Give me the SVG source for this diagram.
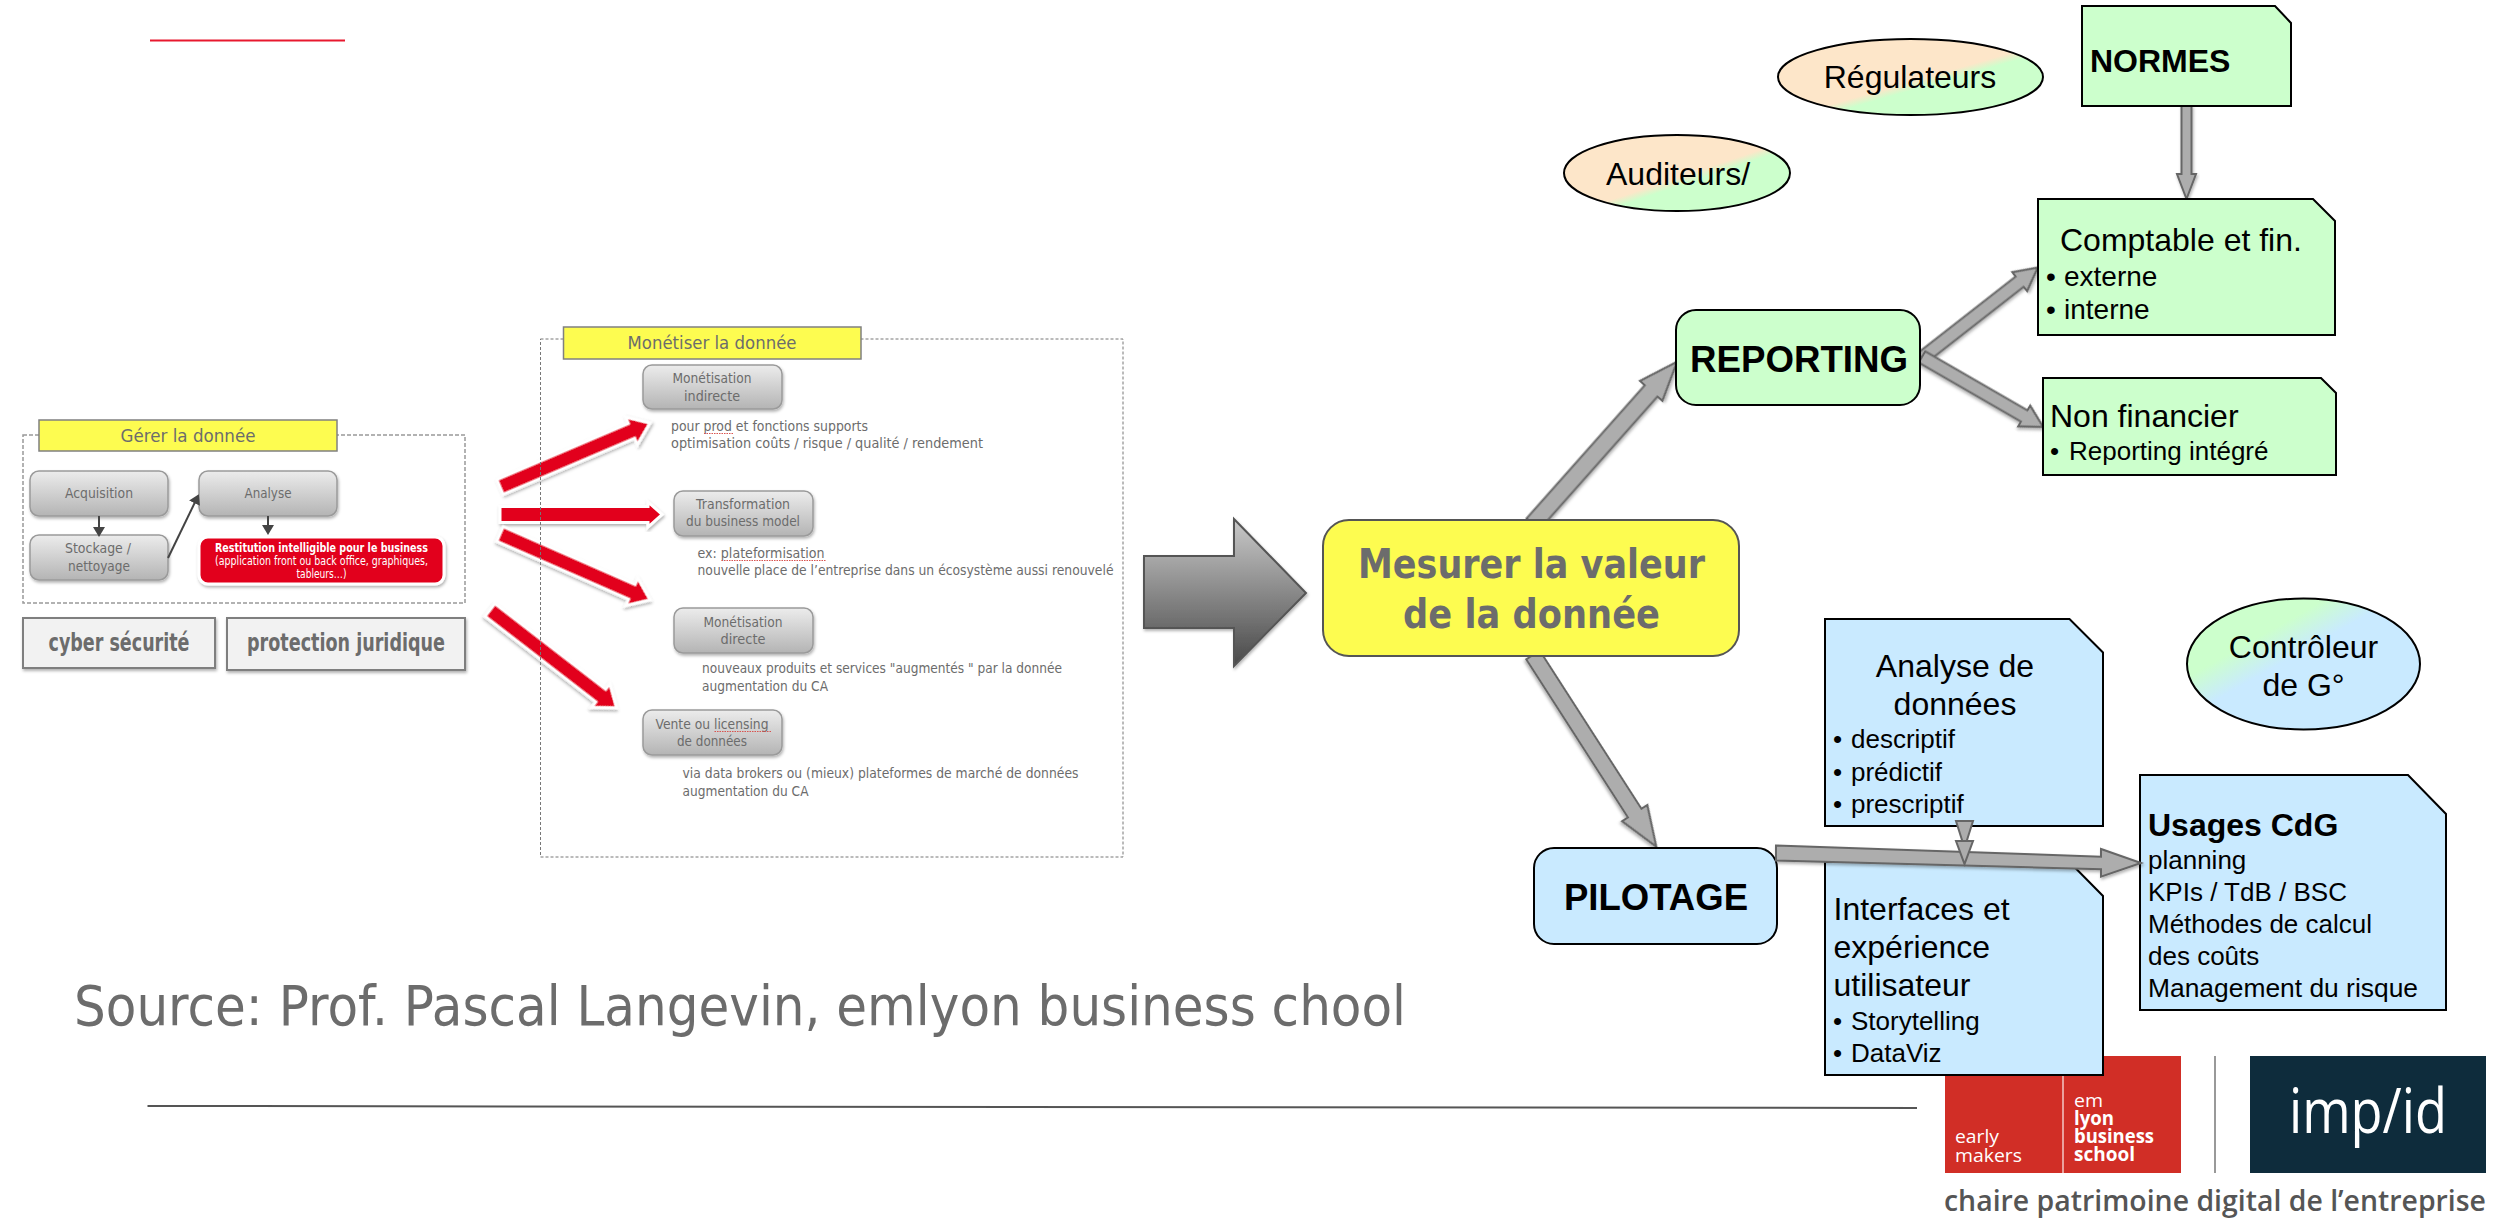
<svg xmlns="http://www.w3.org/2000/svg" width="2503" height="1219" viewBox="0 0 2503 1219">
<style>
text{font-family:"Liberation Sans",Arial,sans-serif;fill:#000}
.t{font-family:"DejaVu Sans","Noto Sans",sans-serif;fill:#6c6c6c;font-size:14.5px}
.c{text-anchor:middle}
.b{font-weight:bold}
.s32{font-size:32px}.s26{font-size:26px}.s28{font-size:28px}.s36{font-size:36px}
.dash{fill:none;stroke:#999;stroke-width:1.5;stroke-dasharray:4 2}
.head{fill:#fdfc50;stroke:#808080;stroke-width:1.5}
.grey{fill:url(#gbox);stroke:#9a9a9a;stroke-width:1.5;filter:url(#sh)}
.flat{fill:#f2f2f2;stroke:#7f7f7f;stroke-width:2;filter:url(#sh)}
.ra{fill:#e2001a;stroke:#fff;stroke-width:3;filter:url(#sh)}
.ga{fill:#adadad;stroke:#666;stroke-width:2;filter:url(#sh)}
.g{fill:#ccffcc;stroke:#000;stroke-width:2}
.bl{fill:#c9eaff;stroke:#000;stroke-width:2}
.thin{fill:none;stroke:#444;stroke-width:2}
.sq{fill:none;stroke:#d9534f;stroke-width:1;stroke-dasharray:1.5 1}
.lg{font-family:"Open Sans","Noto Sans",sans-serif;fill:#fff}
</style>
<defs>
<linearGradient id="gbox" x1="0" y1="0" x2="0" y2="1"><stop offset="0" stop-color="#ececec"/><stop offset="1" stop-color="#b4b4b4"/></linearGradient>
<linearGradient id="big" x1="0" y1="0" x2="0" y2="1"><stop offset="0" stop-color="#c9c9c9"/><stop offset="1" stop-color="#494949"/></linearGradient>
<linearGradient id="og" x1="0" y1="0" x2="1" y2="1"><stop offset="0.53" stop-color="#fde6c9"/><stop offset="0.59" stop-color="#ccffcc"/></linearGradient>
<linearGradient id="gb" x1="0" y1="0" x2="1" y2="1"><stop offset="0.3" stop-color="#ccffcc"/><stop offset="0.45" stop-color="#c9eaff"/></linearGradient>
<filter id="sh" x="-20%" y="-20%" width="140%" height="140%"><feDropShadow dx="1" dy="2" stdDeviation="1.5" flood-color="#000" flood-opacity="0.3"/></filter>
<marker id="sm" markerWidth="5" markerHeight="6" refX="4" refY="3" orient="auto"><path d="M0,0L5,3L0,6Z" fill="#444"/></marker>
</defs>
<rect width="2503" height="1219" fill="#fff"/>
<path d="M150,40.500H345" stroke="#e8182e" stroke-width="2" fill="none"/>

<g id="gerer">
<rect class="dash" x="23" y="435" width="442" height="168"/>
<rect class="head" x="39" y="420" width="298" height="31"/>
<text class="t c" x="188" y="442" style="font-size:18px" textLength="135" lengthAdjust="spacingAndGlyphs">Gérer la donnée</text>
</g>
<g id="acquisition"><rect class="grey" x="30" y="471" width="138" height="45" rx="9"/><text class="t c" x="99" y="498" textLength="68" lengthAdjust="spacingAndGlyphs">Acquisition</text></g>
<g id="stockage"><rect class="grey" x="30" y="535" width="138" height="45" rx="9"/><text class="t c" x="98" y="553" textLength="66" lengthAdjust="spacingAndGlyphs">Stockage /</text><text class="t c" x="99" y="571" textLength="62" lengthAdjust="spacingAndGlyphs">nettoyage</text></g>
<g id="analyse"><rect class="grey" x="199" y="471" width="138" height="45" rx="9"/><text class="t c" x="268" y="498" textLength="47" lengthAdjust="spacingAndGlyphs">Analyse</text></g>
<g id="restitution"><rect x="199" y="537" width="245" height="47" rx="9" fill="#e2001a" stroke="#fff" stroke-width="3" filter="url(#sh)"/>
<text class="t c b" x="321.500" y="552" style="font-size:12px;fill:#fff" textLength="213" lengthAdjust="spacingAndGlyphs">Restitution intelligible pour le business</text>
<text class="t c" x="321.500" y="565" style="font-size:12px;fill:#fff" textLength="213" lengthAdjust="spacingAndGlyphs">(application front ou back office, graphiques,</text>
<text class="t c" x="321.500" y="578" style="font-size:12px;fill:#fff" textLength="50" lengthAdjust="spacingAndGlyphs">tableurs…)</text></g>
<g id="cyber"><rect class="flat" x="23" y="618" width="192" height="50"/><text class="t c b" x="119" y="651" style="font-size:24px" textLength="141" lengthAdjust="spacingAndGlyphs">cyber sécurité</text></g>
<g id="juridique"><rect class="flat" x="227" y="618" width="238" height="52"/><text class="t c b" x="346" y="651" style="font-size:24px" textLength="198" lengthAdjust="spacingAndGlyphs">protection juridique</text></g>

<g id="connectors">
<path class="thin" marker-end="url(#sm)" d="M99,516V535"/>
<path class="thin" marker-end="url(#sm)" d="M268,516V533"/>
<path class="thin" marker-end="url(#sm)" d="M168,558L198,496"/>
<path class="ra" transform="translate(500,487) rotate(-23.100)" d="M0,-8H143V-15L163,0L143,15V8H0Z"/>
<path class="ra" d="M500,506.500H648V502L662,514.500L648,527V522.500H500Z"/>
<path class="ra" transform="translate(500,534) rotate(23.700)" d="M0,-8H144V-15L164,0L144,15V8H0Z"/>
<path class="ra" transform="translate(490,610) rotate(37.700)" d="M0,-8H140V-15L160,0L140,15V8H0Z"/>
<path fill="url(#big)" stroke="#555" stroke-width="2" filter="url(#sh)" d="M1144,556H1234V519L1306,593L1234,666V628H1144Z"/>
<path class="ga" transform="translate(1533,524) rotate(-48.400)" d="M0,-8.500H178V-15L217,0L178,15V8.500H0Z"/>
<path class="ga" transform="translate(1533,655) rotate(57.250)" d="M0,-8H188V-15L228,0L188,15V8H0Z"/>
<path class="ga" transform="translate(1922,358) rotate(-38)" d="M0,-6.500H124V-12L147,0L124,12V6.500H0Z"/>
<path class="ga" transform="translate(1922,357) rotate(30)" d="M0,-6.500H118V-12L140,0L118,12V6.500H0Z"/>
<path class="ga" d="M2181.500,106H2191.500V174H2196L2186.500,199L2177,174H2181.500Z"/>
</g>

<g id="monetiser">
<rect class="dash" x="540.500" y="339" width="582.500" height="518" style="stroke-width:1;stroke-dasharray:3 2;stroke:#777"/>
<rect class="head" x="563.500" y="327" width="297.500" height="32"/>
<text class="t c" x="712" y="349" style="font-size:18px" textLength="169" lengthAdjust="spacingAndGlyphs">Monétiser la donnée</text>
</g>
<g id="m-indirecte"><rect class="grey" x="643" y="365" width="139" height="44" rx="9"/><text class="t c" x="712" y="383" textLength="79" lengthAdjust="spacingAndGlyphs">Monétisation</text><text class="t c" x="712" y="401" textLength="56" lengthAdjust="spacingAndGlyphs">indirecte</text></g>
<g id="t-indirecte"><text class="t" x="671" y="431" textLength="197" lengthAdjust="spacingAndGlyphs">pour prod et fonctions supports</text><text class="t" x="671" y="448" textLength="312" lengthAdjust="spacingAndGlyphs">optimisation coûts / risque / qualité / rendement</text><path class="sq" d="M704,433.500H733"/></g>
<g id="m-transformation"><rect class="grey" x="674" y="491" width="139" height="45" rx="9"/><text class="t c" x="743" y="509" textLength="94" lengthAdjust="spacingAndGlyphs">Transformation</text><text class="t c" x="743" y="526" textLength="114" lengthAdjust="spacingAndGlyphs">du business model</text></g>
<g id="t-transformation"><text class="t" x="697.500" y="558" textLength="127" lengthAdjust="spacingAndGlyphs">ex: plateformisation</text><text class="t" x="697.500" y="575" textLength="416" lengthAdjust="spacingAndGlyphs">nouvelle place de l’entreprise dans un écosystème aussi renouvelé</text><path class="sq" d="M721.500,560.500H826"/></g>
<g id="m-directe"><rect class="grey" x="674" y="608" width="139" height="45" rx="9"/><text class="t c" x="743" y="627" textLength="79" lengthAdjust="spacingAndGlyphs">Monétisation</text><text class="t c" x="743" y="644" textLength="45" lengthAdjust="spacingAndGlyphs">directe</text></g>
<g id="t-directe"><text class="t" x="702" y="673" textLength="360" lengthAdjust="spacingAndGlyphs">nouveaux produits et services "augmentés " par la donnée</text><text class="t" x="702" y="691" textLength="126" lengthAdjust="spacingAndGlyphs">augmentation du CA</text></g>
<g id="m-vente"><rect class="grey" x="643" y="710" width="139" height="45" rx="9"/><text class="t c" x="712" y="729" textLength="113" lengthAdjust="spacingAndGlyphs">Vente ou licensing</text><text class="t c" x="712" y="746" textLength="70" lengthAdjust="spacingAndGlyphs">de données</text><path class="sq" d="M714.500,731.500H771"/></g>
<g id="t-vente"><text class="t" x="682.500" y="778" textLength="396" lengthAdjust="spacingAndGlyphs">via data brokers ou (mieux) plateformes de marché de données</text><text class="t" x="682.500" y="796" textLength="126" lengthAdjust="spacingAndGlyphs">augmentation du CA</text></g>

<g id="mesurer"><rect x="1323" y="520" width="416" height="136" rx="26" fill="#fdfc50" stroke="#555" stroke-width="2"/>
<text class="t c b" x="1531.500" y="578" style="font-size:40px" textLength="347" lengthAdjust="spacingAndGlyphs">Mesurer la valeur</text>
<text class="t c b" x="1531.500" y="628" style="font-size:40px" textLength="257" lengthAdjust="spacingAndGlyphs">de la donnée</text></g>

<g id="regulateurs"><ellipse cx="1910.500" cy="77" rx="132.500" ry="38" fill="url(#og)" stroke="#000" stroke-width="2"/><text class="s32 c" x="1910" y="88">Régulateurs</text></g>
<g id="auditeurs"><ellipse cx="1677" cy="173" rx="113" ry="38" fill="url(#og)" stroke="#000" stroke-width="2"/><text class="s32" x="1606" y="185">Auditeurs/</text></g>
<g id="normes"><path class="g" d="M2082,6H2275L2291,23V106H2082Z"/><text class="s32 b" x="2090" y="72">NORMES</text></g>
<g id="reporting"><rect class="g" x="1676" y="310" width="244" height="95" rx="20"/><text class="s36 b" x="1690" y="372" textLength="218" lengthAdjust="spacingAndGlyphs">REPORTING</text></g>
<g id="comptable"><path class="g" d="M2038,199H2313L2335,221V335H2038Z"/><text class="s32" x="2060" y="251">Comptable et fin.</text><text class="s28" x="2046" y="286">•</text><text class="s28" x="2064" y="286">externe</text><text class="s28" x="2046" y="319">•</text><text class="s28" x="2064" y="319">interne</text></g>
<g id="nonfinancier"><path class="g" d="M2043,378H2321L2336,393V475H2043Z"/><text class="s32" x="2050" y="427">Non financier</text><text class="s26" x="2050" y="460">•</text><text class="s26" x="2069" y="460">Reporting intégré</text></g>
<g id="analyse-donnees"><path class="bl" d="M1825,619H2069.500L2103,652.500V826H1825Z"/><text class="s32 c" x="1955" y="677">Analyse de</text><text class="s32 c" x="1955" y="715">données</text><text class="s26" x="1833" y="748">•</text><text class="s26" x="1851" y="748">descriptif</text><text class="s26" x="1833" y="781">•</text><text class="s26" x="1851" y="781">prédictif</text><text class="s26" x="1833" y="813">•</text><text class="s26" x="1851" y="813">prescriptif</text></g>
<g id="controleur"><ellipse cx="2303.500" cy="664" rx="116.500" ry="65.500" fill="url(#gb)" stroke="#000" stroke-width="2"/><text class="s32 c" x="2303.500" y="658">Contrôleur</text><text class="s32 c" x="2303.500" y="696">de G°</text></g>
<g id="pilotage"><rect class="bl" x="1534" y="848" width="243" height="96" rx="20"/><text class="s36 b" x="1564" y="910" textLength="184" lengthAdjust="spacingAndGlyphs">PILOTAGE</text></g>
<g id="usages"><path class="bl" d="M2140,775H2408L2446,814V1010H2140Z"/><text class="s32 b" x="2148" y="836">Usages CdG</text><text class="s26" x="2148" y="869">planning</text><text class="s26" x="2148" y="901">KPIs / TdB / BSC</text><text class="s26" x="2148" y="933">Méthodes de calcul</text><text class="s26" x="2148" y="965">des coûts</text><text class="s26" x="2148" y="997" textLength="270" lengthAdjust="spacingAndGlyphs">Management du risque</text></g>

<g id="logos">
<rect x="1945" y="1056" width="236" height="117" fill="#d12e26"/>
<path d="M2063,1056V1173" stroke="#f3c9c6" stroke-width="1.500"/>
<path d="M2215,1056V1173" stroke="#777" stroke-width="1.500"/>
<rect x="2250" y="1056" width="236" height="117" fill="#0e2c3c"/>
<text class="lg" x="1955" y="1143" style="font-size:19px" textLength="44" lengthAdjust="spacingAndGlyphs">early</text>
<text class="lg" x="1955" y="1162" style="font-size:19px" textLength="67" lengthAdjust="spacingAndGlyphs">makers</text>
<text class="lg" x="2074" y="1107" style="font-size:19px" textLength="29" lengthAdjust="spacingAndGlyphs">em</text>
<text class="lg b" x="2074" y="1125" style="font-size:19px" textLength="40" lengthAdjust="spacingAndGlyphs">lyon</text>
<text class="lg b" x="2074" y="1143" style="font-size:19px" textLength="80" lengthAdjust="spacingAndGlyphs">business</text>
<text class="lg b" x="2074" y="1161" style="font-size:19px" textLength="61" lengthAdjust="spacingAndGlyphs">school</text>
<text class="lg" x="2289" y="1133" style="font-size:62px;font-weight:500" textLength="158" lengthAdjust="spacingAndGlyphs">imp/id</text>
<text class="lg" x="1944" y="1211" style="font-size:29px;font-weight:600;fill:#555" textLength="542" lengthAdjust="spacingAndGlyphs">chaire patrimoine digital de l’entreprise</text>
</g>
<g id="interfaces"><path class="bl" d="M1825,862H2069.500L2103,896V1075H1825Z"/><text class="s32" x="1833.500" y="919.500">Interfaces et</text><text class="s32" x="1833.500" y="957.500">expérience</text><text class="s32" x="1833.500" y="996">utilisateur</text><text class="s26" x="1833" y="1030">•</text><text class="s26" x="1851" y="1030">Storytelling</text><text class="s26" x="1833" y="1062">•</text><text class="s26" x="1851" y="1062">DataViz</text></g>

<g id="connectors-top">
<path class="ga" d="M1776,845.500L2101,856.700V849L2141,863L2101,876.700V869.300L1776,860.500Z"/>
<path class="ga" d="M1956,821H1973L1964.500,848Z" style="filter:none"/>
<path class="ga" d="M1956,841H1973L1964.500,864Z" style="filter:none"/>
</g>

<text id="source" class="t" x="74" y="1025" style="font-size:55px" textLength="1332" lengthAdjust="spacingAndGlyphs">Source: Prof. Pascal Langevin, emlyon business chool</text>
<path d="M147.500,1106L1917,1108" stroke="#555" stroke-width="2" fill="none"/>
</svg>
